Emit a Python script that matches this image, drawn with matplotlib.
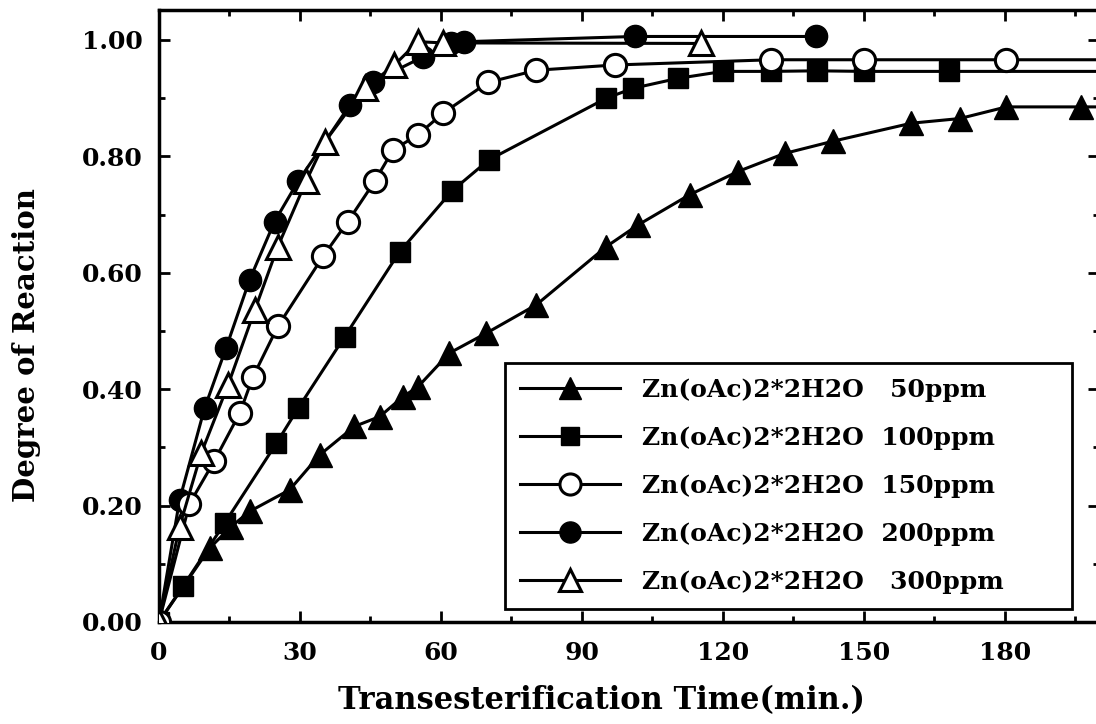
import matplotlib
matplotlib.use("Agg")
import matplotlib.pyplot as plt
from matplotlib.ticker import MultipleLocator, FormatStrFormatter

# ---- data ----
t50  = [0, 10.8, 15.4, 19.3, 27.8, 34.2, 41.6, 47, 51.9, 55.1, 61.8, 69.6, 80.3, 95.2, 101.9, 112.9, 123.2, 133.1, 143.4, 160.1, 170.4, 180.3, 196.2, 210]
y50  = [0, 0.127, 0.164, 0.19, 0.227, 0.287, 0.336, 0.353, 0.387, 0.404, 0.462, 0.496, 0.545, 0.645, 0.682, 0.734, 0.774, 0.805, 0.826, 0.857, 0.865, 0.885, 0.885, 0.885]

t100 = [0, 5.1, 14.0, 25.0, 29.6, 39.5, 51.2, 62.4, 70.2, 95.2, 100.9, 110.4, 120.0, 130.3, 140.0, 150.1, 168.2, 210]
y100 = [0, 0.061, 0.17, 0.307, 0.367, 0.49, 0.636, 0.741, 0.794, 0.90, 0.917, 0.934, 0.946, 0.946, 0.947, 0.946, 0.946, 0.946]

t150 = [0, 6.5, 11.8, 17.2, 20.0, 25.3, 34.9, 40.2, 45.9, 49.8, 55.1, 60.4, 70.0, 80.3, 97.0, 130.3, 150.1, 180.3, 210]
y150 = [0, 0.203, 0.277, 0.359, 0.421, 0.508, 0.628, 0.688, 0.757, 0.811, 0.837, 0.874, 0.927, 0.948, 0.957, 0.966, 0.966, 0.966, 0.966]

t200 = [0, 4.4, 9.7, 14.3, 19.3, 24.6, 29.6, 40.6, 45.5, 56.2, 62.2, 65.0, 101.2, 139.9]
y200 = [0, 0.21, 0.367, 0.471, 0.588, 0.688, 0.757, 0.888, 0.928, 0.971, 0.995, 0.997, 1.006, 1.006]

t300 = [0, 4.4, 9.0, 14.7, 20.4, 25.3, 31.3, 35.3, 43.8, 50.1, 55.1, 60.4, 115.4]
y300 = [0, 0.164, 0.29, 0.407, 0.536, 0.645, 0.757, 0.825, 0.917, 0.957, 0.997, 0.995, 0.994]

labels = ["Zn(oAc)2*2H2O   50ppm",
          "Zn(oAc)2*2H2O  100ppm",
          "Zn(oAc)2*2H2O  150ppm",
          "Zn(oAc)2*2H2O  200ppm",
          "Zn(oAc)2*2H2O   300ppm"]

xticks = [0, 30, 60, 90, 120, 150, 180]
yticks = [0.0, 0.2, 0.4, 0.6, 0.8, 1.0]

plt.rcParams['font.family'] = ['DejaVu Serif']
plt.rcParams['font.weight'] = 'bold'

fig = plt.figure(figsize=(10.96, 7.24), dpi=100)
ax = fig.add_axes([0.145, 0.1409, 0.8577, 0.8453])

lw = 2.2
ax.plot(t50, y50, '-', color='black', lw=lw, marker='^', ms=17, mfc='black', mec='black', label=labels[0], zorder=3)
ax.plot(t100, y100, '-', color='black', lw=lw, marker='s', ms=14, mfc='black', mec='black', label=labels[1], zorder=3)
ax.plot(t150, y150, '-', color='black', lw=lw, marker='o', ms=16, mfc='white', mec='black', mew=2.2, label=labels[2], zorder=4)
ax.plot(t200, y200, '-', color='black', lw=lw, marker='o', ms=16, mfc='black', mec='black', label=labels[3], zorder=3)
ax.plot(t300, y300, '-', color='black', lw=lw, marker='^', ms=17, mfc='white', mec='black', mew=2.2, label=labels[4], zorder=4)

ax.set_xlim(0, 200)
ax.set_ylim(0, 1.0515)
ax.set_xticks(xticks)
ax.set_yticks(yticks)
ax.xaxis.set_minor_locator(MultipleLocator(15))
ax.yaxis.set_minor_locator(MultipleLocator(0.1))
ax.yaxis.set_major_formatter(FormatStrFormatter('%.2f'))

for s in ax.spines.values():
    s.set_linewidth(2.5)
ax.tick_params(which='both', direction='in', top=True, right=True, width=2)
ax.tick_params(which='major', length=8, labelsize=18)
ax.tick_params(axis='x', which='major', pad=14)
ax.tick_params(axis='y', which='major', pad=12)
ax.tick_params(which='minor', length=4)
for lab in ax.get_xticklabels() + ax.get_yticklabels():
    lab.set_fontweight('bold')

ax.set_xlabel("Transesterification Time(min.)", fontsize=22, fontweight='bold')
ax.set_ylabel("Degree of Reaction", fontsize=21, fontweight='bold')
ax.xaxis.set_label_coords(0.471, -0.103)
ax.yaxis.set_label_coords(-0.125, 0.453)

leg = ax.legend(loc='upper left', bbox_to_anchor=(0.368, 0.423, 0.603, 0.0), mode='expand',
                frameon=True, fancybox=False, edgecolor='black', framealpha=1,
                prop={'family': 'DejaVu Serif', 'weight': 'bold', 'size': 18},
                handlelength=4.0, handletextpad=0.9, borderpad=0.6, labelspacing=0.96,
                markerscale=0.95, borderaxespad=0)
leg.get_frame().set_linewidth(2)

fig.savefig("out.png", dpi=100)
